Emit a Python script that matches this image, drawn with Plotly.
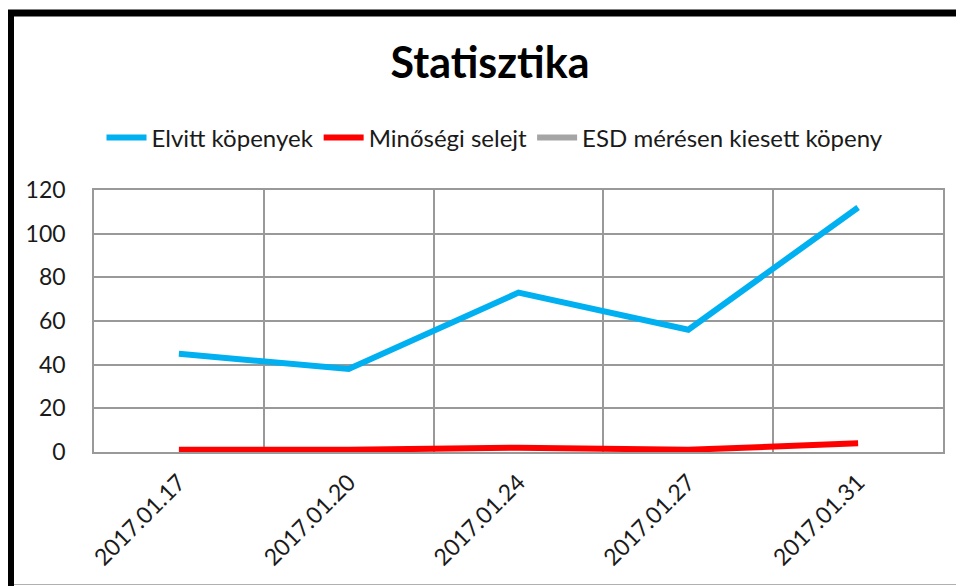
import plotly.graph_objects as go

# chart data
dates = ["2017.01.17", "2017.01.20", "2017.01.24", "2017.01.27", "2017.01.31"]
elvitt = [45, 38, 73, 56, 112]
selejt = [1, 1, 2, 1, 4]
esd = [None, None, None, None, None]
y_ticks = [0, 20, 40, 60, 80, 100, 120]

# the page puts the figure 8px in from the top-left corner
OFF = 8
W, H = 964 - OFF, 586 - OFF
L, R, T, B = 94 - OFF, 21, 190 - OFF, 134  # plot area margins in px
FONT = "Lato, 'Open Sans', sans-serif"


def px_x(px):
    # page pixel -> paper x
    return (px - OFF - L) / (W - L - R)


def px_y(py):
    # page pixel -> paper y
    return (H - B - (py - OFF)) / (H - T - B)


fig = go.Figure()
fig.add_trace(go.Scatter(x=dates, y=elvitt, name="Elvitt köpenyek", mode="lines",
                         line=dict(color="#00b0f0", width=6)))
fig.add_trace(go.Scatter(x=dates, y=selejt, name="Minőségi selejt", mode="lines",
                         line=dict(color="#ff0000", width=6)))
fig.add_trace(go.Scatter(x=dates, y=esd, name="ESD mérésen kiesett köpeny", mode="lines",
                         line=dict(color="#a5a5a5", width=6)))

# thick black frame on the left/top, thin sheet line at the bottom
shapes = [
    dict(type="line", xref="paper", yref="paper",
         x0=px_x(7), x1=px_x(964), y0=px_y(13), y1=px_y(13),
         line=dict(color="black", width=7)),
    dict(type="line", xref="paper", yref="paper",
         x0=px_x(10.5), x1=px_x(10.5), y0=px_y(10), y1=px_y(586),
         line=dict(color="black", width=7)),
    dict(type="line", xref="paper", yref="paper",
         x0=px_x(14), x1=px_x(964), y0=px_y(584.5), y1=px_y(584.5),
         line=dict(color="#b0b0b0", width=1)),
]

fig.update_layout(
    width=W, height=H,
    margin=dict(l=L, r=R, t=T, b=B),
    paper_bgcolor="white", plot_bgcolor="white",
    font=dict(family=FONT, color="#1a1a1a", size=23),
    title=dict(text="<b>Statisztika</b>", x=px_x(490) * (W - L - R) / W + L / W,
               xanchor="center", y=1 - (63 - OFF) / H, yanchor="middle",
               font=dict(family=FONT, size=43, color="black")),
    legend=dict(orientation="h", x=px_x(495), xanchor="center",
                y=px_y(138), yanchor="middle",
                font=dict(size=24), itemwidth=40, traceorder="normal"),
    shapes=shapes,
    xaxis=dict(type="category", range=[-0.5, 4.5], tickson="boundaries",
               showgrid=True, gridcolor="#999999", gridwidth=1.5,
               showline=True, linecolor="#999999", linewidth=1.5, mirror=True,
               ticks="", tickangle=-45, ticklabelstandoff=6,
               tickfont=dict(size=23), fixedrange=True),
    yaxis=dict(range=[0, 120], tickvals=y_ticks, showgrid=True,
               gridcolor="#999999", gridwidth=1.5, zeroline=False,
               showline=True, linecolor="#999999", linewidth=1.5, mirror=True,
               ticks="", ticklabelstandoff=22, tickfont=dict(size=23),
               fixedrange=True),
)

fig.write_html("out.html")
